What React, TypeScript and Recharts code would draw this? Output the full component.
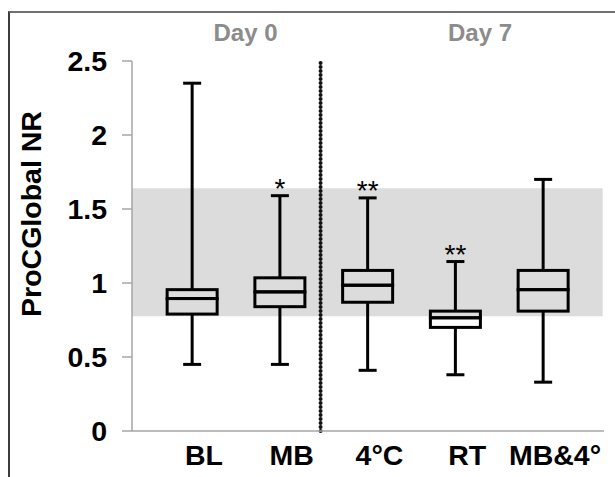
import {
  Bar,
  ComposedChart,
  ReferenceArea,
  ReferenceLine,
  XAxis,
  YAxis,
} from 'recharts'

const categories = ['BL', 'MB', '4°C', 'RT', 'MB&4°']
const mins    = [0.45, 0.45, 0.41, 0.38, 0.33]
const q1s     = [0.79, 0.84, 0.87, 0.70, 0.81]
const medians = [0.895, 0.94, 0.985, 0.765, 0.955]
const q3s     = [0.955, 1.035, 1.085, 0.81, 1.085]
const maxs    = [2.35, 1.59, 1.575, 1.145, 1.70]
const marks   = ['', '*', '**', '**', '']

const yTicks = [0, 0.5, 1, 1.5, 2, 2.5]
const normalRange = [0.775, 1.64]
const xDomain = [0.316, 5.695]
const bandEnd = 5.68
const dividerAt = 2.465 // between MB and 4°C

const FONT = '"Liberation Sans", Arial, sans-serif'
const INK = '#000'
const AXIS = '#a6a6a6'

const rows = categories.map((name, i) => ({
  name,
  pos:   i + 1,
  mark:  marks[i],
  base:  mins[i],
  lower: q1s[i] - mins[i],
  boxLo: medians[i] - q1s[i],
  boxHi: q3s[i] - medians[i],
  upper: maxs[i] - q3s[i],
}))

const Hidden = () => <g />

function LowerWhisker(p: any) {
  const cx = p.x + p.width / 2
  const bottom = p.y + p.height
  return (
    <g>
      <line x1={cx} x2={cx} y1={p.y} y2={bottom} stroke={INK} strokeWidth={3} />
      <line x1={cx - 9} x2={cx + 9} y1={bottom} y2={bottom} stroke={INK} strokeWidth={3} />
    </g>
  )
}

function UpperWhisker(p: any) {
  const cx = p.x + p.width / 2
  const mark = p.payload?.mark
  return (
    <g>
      <line x1={cx} x2={cx} y1={p.y} y2={p.y + p.height} stroke={INK} strokeWidth={3} />
      <line x1={cx - 9} x2={cx + 9} y1={p.y} y2={p.y} stroke={INK} strokeWidth={3} />
      {mark && (
        <text x={cx} y={p.y + 2} textAnchor="middle" fontSize={28} fontFamily={FONT} fill={INK}>
          {mark}
        </text>
      )}
    </g>
  )
}

function BoxPart(p: any) {
  return (
    <rect x={p.x} y={p.y} width={p.width} height={p.height}
      fill="none" stroke={INK} strokeWidth={3} />
  )
}

function XTick(p: any) {
  const label = categories[Math.round(p.payload.value) - 1] ?? ''
  return (
    <text x={p.x + 12} y={p.y + 34} textAnchor="middle"
      fontSize={28.5} fontWeight="bold" fontFamily={FONT} fill={INK}>
      {label}
    </text>
  )
}

function YTitle(p: any) {
  const vb = p.viewBox
  const x = vb.x + 31
  const y = vb.y + vb.height / 2 - 32
  return (
    <text x={x} y={y} transform={`rotate(-90, ${x}, ${y})`} textAnchor="middle"
      fontSize={28.5} fontWeight="bold" fontFamily={FONT} fill={INK}>
      ProCGlobal NR
    </text>
  )
}

export default function App() {
  return (
    <div
      style={{
        position: 'fixed',
        left: 8,
        top: 11,
        width: 607,
        height: 466,
        boxSizing: 'border-box',
        borderTop: '2px solid #707070',
        borderLeft: '2px solid #3c3c3c',
        overflow: 'hidden',
        background: '#fff',
      }}
    >
      <ComposedChart
        width={605}
        height={464}
        data={rows}
        margin={{ top: 48, right: 11, bottom: 6, left: 0 }}
      >
        <XAxis
          dataKey="pos"
          type="number"
          domain={xDomain}
          allowDataOverflow
          ticks={[1, 2, 3, 4, 5]}
          interval={0}
          tick={<XTick />}
          tickLine={false}
          tickSize={0}
          tickMargin={0}
          height={40}
          axisLine={{ stroke: AXIS, strokeWidth: 1.5 }}
        />
        <YAxis
          width={122}
          domain={[0, 2.5]}
          ticks={yTicks}
          interval={0}
          tickSize={10}
          tickMargin={15}
          tick={{ fontSize: 28.5, fontWeight: 'bold', fontFamily: FONT, fill: INK }}
          tickLine={{ stroke: AXIS, strokeWidth: 1.5 }}
          axisLine={{ stroke: AXIS, strokeWidth: 1.5 }}
          label={{ content: YTitle }}
        />

        {/* reference range, grey band */}
        <ReferenceArea
          x1={xDomain[0]}
          x2={bandEnd}
          y1={normalRange[0]}
          y2={normalRange[1]}
          fill="#dcdcdc"
          fillOpacity={1}
          stroke="none"
        />

        <Bar dataKey="base"  stackId="b" barSize={50} shape={<Hidden />} isAnimationActive={false} />
        <Bar dataKey="lower" stackId="b" barSize={50} shape={<LowerWhisker />} isAnimationActive={false} />
        <Bar dataKey="boxLo" stackId="b" barSize={50} shape={<BoxPart />} isAnimationActive={false} />
        <Bar dataKey="boxHi" stackId="b" barSize={50} shape={<BoxPart />} isAnimationActive={false} />
        <Bar dataKey="upper" stackId="b" barSize={50} shape={<UpperWhisker />} isAnimationActive={false} />

        {/* Day 0 | Day 7 divider */}
        <ReferenceLine
          x={dividerAt}
          stroke="#111"
          strokeWidth={4}
          strokeDasharray="0 4"
          strokeLinecap="round"
        />
      </ComposedChart>

      <svg width={605} height={60} style={{ position: 'absolute', left: 0, top: 0 }}>
        <text x={235.5} y={28} textAnchor="middle" fontSize={24} fontWeight="bold" fontFamily={FONT} fill="#8c8c8c">
          Day 0
        </text>
        <text x={470} y={28} textAnchor="middle" fontSize={24} fontWeight="bold" fontFamily={FONT} fill="#8c8c8c">
          Day 7
        </text>
      </svg>
    </div>
  )
}
